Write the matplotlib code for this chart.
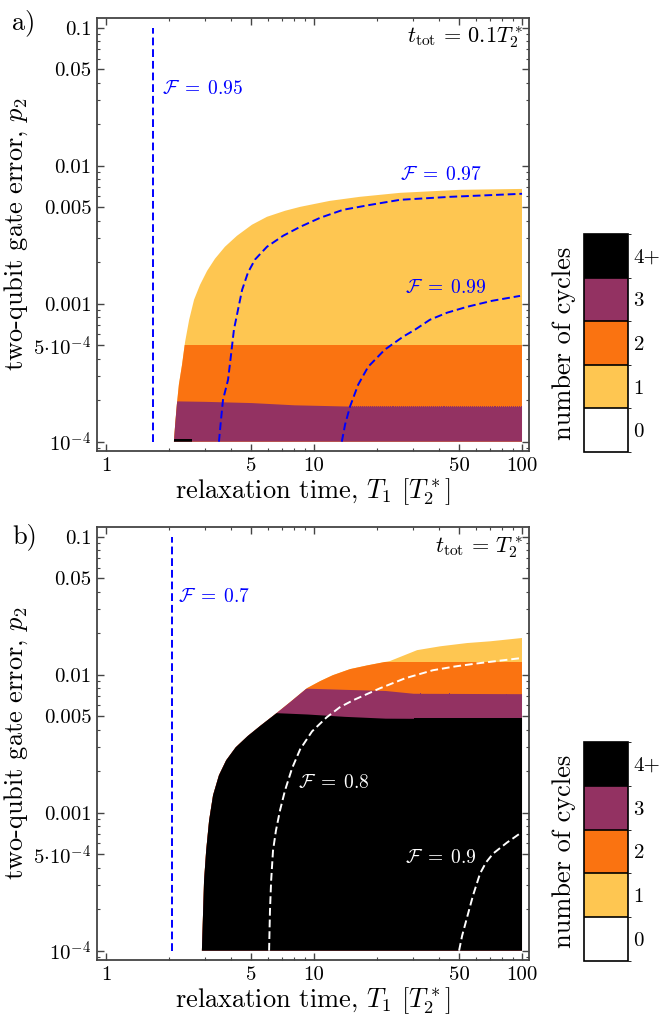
import numpy as np
import matplotlib
matplotlib.use('Agg')
import matplotlib.pyplot as plt
from matplotlib.patches import Polygon
from matplotlib.colors import ListedColormap, BoundaryNorm
import matplotlib.cm as cm
from matplotlib.ticker import LogLocator, NullFormatter

plt.rcParams['font.family'] = 'serif'
plt.rcParams['font.serif'] = ['cmr10']
plt.rcParams['mathtext.fontset'] = 'cm'
plt.rcParams['axes.formatter.use_mathtext'] = True

# colours for 0, 1, 2, 3, 4+ cycles
cycle_colors = ['white', '#fec651', '#fa7311', '#933262', 'black']
cycle_labels = ['0', '1', '2', '3', '4+']

x_ticks = [1, 5, 10, 50, 100]
x_ticklabels = ['1', '5', '10', '50', '100']
y_ticks = [1e-4, 5e-4, 1e-3, 5e-3, 1e-2, 5e-2, 1e-1]
y_ticklabels = [r'$10^{-4}$', r'$5{\cdot}10^{-4}$', '0.001', '0.005', '0.01', '0.05', '0.1']

# ---- panel a : t_tot = 0.1 T2* ----
a_outer_x = [2.12, 2.15, 2.19, 2.24, 2.32, 2.40, 2.51, 2.65, 2.83, 3.06, 3.34, 3.73, 4.26,
             5.03, 5.94, 7.25, 8.57, 11.9, 16.6, 25.9, 50.3, 100]
a_outer_p = [1e-4, 1.33e-4, 1.85e-4, 2.59e-4, 3.61e-4, 5.3e-4, 7.66e-4, 1.07e-3, 1.37e-3,
             1.73e-3, 2.12e-3, 2.59e-3, 3.11e-3, 3.74e-3, 4.27e-3, 4.72e-3, 5.04e-3,
             5.57e-3, 5.96e-3, 6.37e-3, 6.70e-3, 6.8e-3]
a_b12 = 5.05e-4
a_b23_x = [2.0, 3.0, 5.0, 8.0, 15, 100]
a_b23_p = [1.98e-4, 1.96e-4, 1.92e-4, 1.85e-4, 1.81e-4, 1.8e-4]
a_black_x = [2.12, 2.6]
a_black_p = [1.04e-4, 1.04e-4]

a_f95_x = 1.68
a_f97_x = [3.49, 3.57, 3.65, 3.86, 3.99, 4.12, 4.31, 4.51, 4.81, 5.2, 5.94, 7.10, 8.57,
           10.7, 13.8, 18.6, 25.9, 45.1, 100]
a_f97_p = [1e-4, 1.44e-4, 2.01e-4, 2.81e-4, 4.27e-4, 6.49e-4, 9.05e-4, 1.26e-3, 1.68e-3,
           2.09e-3, 2.59e-3, 3.11e-3, 3.61e-3, 4.2e-3, 4.8e-3, 5.21e-3, 5.67e-3, 5.96e-3,
           6.27e-3]
a_f99_x = [13.6, 14.1, 14.9, 16.3, 18.2, 21.9, 26.8, 30.6, 36.1, 43.6, 54.4, 71.7, 97.8]
a_f99_p = [1e-4, 1.33e-4, 1.8e-4, 2.59e-4, 3.49e-4, 4.65e-4, 5.77e-4, 6.49e-4, 7.66e-4,
           8.61e-4, 9.5e-4, 1.05e-3, 1.14e-3]

# ---- panel b : t_tot = T2* ----
b_outer_x = [2.89, 2.93, 2.96, 3.03, 3.13, 3.27, 3.49, 3.78, 4.20, 4.80, 5.55, 6.42, 7.66,
             9.25, 10.7, 12.3, 14.9, 18.0, 23.2, 31.3, 40.4, 54.4, 70.2, 100]
b_outer_p = [1e-4, 1.95e-4, 3.22e-4, 5.32e-4, 8.79e-4, 1.34e-3, 1.87e-3, 2.40e-3, 2.98e-3,
             3.60e-3, 4.30e-3, 5.1e-3, 6.32e-3, 8.0e-3, 9.0e-3, 9.93e-3, 1.10e-2, 1.17e-2,
             1.26e-2, 1.51e-2, 1.61e-2, 1.70e-2, 1.75e-2, 1.85e-2]
b_b12 = 1.24e-2
b_band_x = [2.5, 6, 9.25, 14, 22, 30, 100]
b_b23_p = [8.1e-3, 8.1e-3, 8.0e-3, 7.85e-3, 7.7e-3, 7.35e-3, 7.3e-3]
b_b34_p = [5.35e-3, 5.35e-3, 5.2e-3, 5.0e-3, 4.85e-3, 4.84e-3, 4.84e-3]

b_f70_x = 2.08
b_f80_x = [6.08, 6.14, 6.22, 6.35, 6.56, 6.86, 7.25, 7.84, 8.57, 9.78, 11.5, 13.3, 15.4,
           20.8, 27.4, 37.3, 47.6, 60.8, 97.8]
b_f80_p = [1e-4, 1.95e-4, 3.22e-4, 5.32e-4, 7.43e-4, 1.04e-3, 1.45e-3, 2.10e-3, 2.88e-3,
           3.89e-3, 4.92e-3, 5.82e-3, 6.54e-3, 8.0e-3, 9.44e-3, 1.08e-2, 1.15e-2, 1.21e-2,
           1.32e-2]
b_f90_x = [49.8, 51.5, 54.4, 58.1, 62.8, 67.1, 72.6, 84.7, 97.8]
b_f90_p = [1e-4, 1.28e-4, 1.74e-4, 2.51e-4, 3.62e-4, 4.36e-4, 5.06e-4, 6.08e-4, 7.08e-4]

P_MIN, P_MAX, P_TOP, X_MAX = 1e-4, 0.1, 1.0, 100
DASH = (0, (4, 2))
BLUE = '#0000ff'
FRAME = '#444444'


def style_axes(ax):
    ax.set_xscale('log')
    ax.set_yscale('log')
    ax.set_xlim(0.905, 108)
    ax.set_ylim(8.55e-5, 0.118)
    ax.set_xticks(x_ticks)
    ax.set_xticklabels(x_ticklabels)
    ax.set_yticks(y_ticks)
    ax.set_yticklabels(y_ticklabels)
    ax.xaxis.set_minor_locator(LogLocator(base=10, subs=np.arange(2, 10)))
    ax.yaxis.set_minor_locator(LogLocator(base=10, subs=np.arange(2, 10)))
    ax.xaxis.set_minor_formatter(NullFormatter())
    ax.yaxis.set_minor_formatter(NullFormatter())
    ax.tick_params(which='both', direction='in', top=True, right=True,
                   color=FRAME, labelsize=15, pad=4)
    ax.tick_params(which='major', length=5, width=1)
    ax.tick_params(which='minor', length=2.5, width=0.8)
    for s in ax.spines.values():
        s.set_color(FRAME)
        s.set_linewidth(1.3)
    ax.set_xlabel(r'relaxation time, $T_1$ $[T_2^*]$', fontsize=19, labelpad=1)
    ax.set_ylabel(r'two-qubit gate error, $p_2$', fontsize=19, labelpad=2)


def region(ax, outer_x, outer_p):
    # invisible outline of the non-zero region, used to clip the bands
    verts = list(zip(outer_x, outer_p)) + [(X_MAX, P_MIN)]
    poly = Polygon(verts, closed=True, transform=ax.transData,
                   facecolor='none', edgecolor='none')
    ax.add_patch(poly)
    return poly


def band(ax, clip, bx, hi, color):
    # each band is filled from the bottom, higher counts are painted on top
    f = ax.fill_between(bx, P_MIN, hi, color=color, lw=0, zorder=2, antialiased=False)
    f.set_clip_path(clip)


def colorbar(fig, rect):
    cax = fig.add_axes(rect)
    cmap = ListedColormap(cycle_colors)
    norm = BoundaryNorm(np.arange(-0.5, 5.5, 1), 5)
    cb = fig.colorbar(cm.ScalarMappable(norm=norm, cmap=cmap), cax=cax,
                      ticks=range(5), drawedges=True)
    cb.set_ticklabels(cycle_labels)
    cb.ax.tick_params(length=0, labelsize=15, pad=4)
    cb.outline.set_edgecolor('black')
    cb.outline.set_linewidth(1.2)
    cb.dividers.set_color('black')
    cb.dividers.set_linewidth(1.2)
    cb.set_label('number of cycles', fontsize=19, labelpad=6)
    cb.ax.yaxis.set_label_position('left')


def flabel(ax, x, y, txt, color):
    ax.text(x, y, r'$\mathcal{F}\;=\;' + txt + '$', color=color, fontsize=14,
            va='center', zorder=4)


fig = plt.figure(figsize=(6.6, 10.17), dpi=100)

# panel a
ax1 = fig.add_axes([0.147, 0.5565, 0.6545, 0.4258])
clip = region(ax1, a_outer_x, a_outer_p)
band(ax1, clip, [1.5, 100], P_TOP, cycle_colors[1])
band(ax1, clip, [1.5, 100], a_b12, cycle_colors[2])
band(ax1, clip, a_b23_x, a_b23_p, cycle_colors[3])
band(ax1, clip, a_black_x, a_black_p, cycle_colors[4])
ax1.plot([a_f95_x, a_f95_x], [P_MIN, P_MAX], ls=DASH, color=BLUE, lw=1.4, zorder=3)
ax1.plot(a_f97_x, a_f97_p, ls=DASH, color=BLUE, lw=1.4, zorder=3)
ax1.plot(a_f99_x, a_f99_p, ls=DASH, color=BLUE, lw=1.4, zorder=3)
flabel(ax1, 1.86, 0.036, '0.95', BLUE)
flabel(ax1, 25.9, 8.6e-3, '0.97', BLUE)
flabel(ax1, 27.4, 1.3e-3, '0.99', BLUE)
ax1.text(0.986, 0.956, r'$t_{\rm tot}\,=\,0.1T_2^*$', transform=ax1.transAxes,
         ha='right', va='center', fontsize=16)
style_axes(ax1)
colorbar(fig, [0.8848, 0.5556, 0.0667, 0.2144])

# panel b
ax2 = fig.add_axes([0.147, 0.0560, 0.6545, 0.4258])
clip = region(ax2, b_outer_x, b_outer_p)
band(ax2, clip, [2.0, 100], P_TOP, cycle_colors[1])
band(ax2, clip, [2.0, 100], b_b12, cycle_colors[2])
band(ax2, clip, b_band_x, b_b23_p, cycle_colors[3])
band(ax2, clip, b_band_x, b_b34_p, cycle_colors[4])
ax2.plot([b_f70_x, b_f70_x], [P_MIN, P_MAX], ls=DASH, color=BLUE, lw=1.4, zorder=3)
ax2.plot(b_f80_x, b_f80_p, ls=DASH, color='white', lw=1.4, zorder=3)
ax2.plot(b_f90_x, b_f90_p, ls=DASH, color='white', lw=1.4, zorder=3)
flabel(ax2, 2.22, 0.0366, '0.7', BLUE)
flabel(ax2, 8.38, 1.63e-3, '0.8', 'white')
flabel(ax2, 27.4, 4.73e-4, '0.9', 'white')
ax2.text(0.986, 0.954, r'$t_{\rm tot}\,=\,T_2^*$', transform=ax2.transAxes,
         ha='right', va='center', fontsize=16)
style_axes(ax2)
colorbar(fig, [0.8848, 0.0551, 0.0667, 0.2153])

fig.text(12 / 660, 1 - 23 / 1017, 'a)', fontsize=19, va='center', ha='left')
fig.text(12 / 660, 1 - 537 / 1017, 'b)', fontsize=19, va='center', ha='left')

fig.savefig('out.png', dpi=100)
